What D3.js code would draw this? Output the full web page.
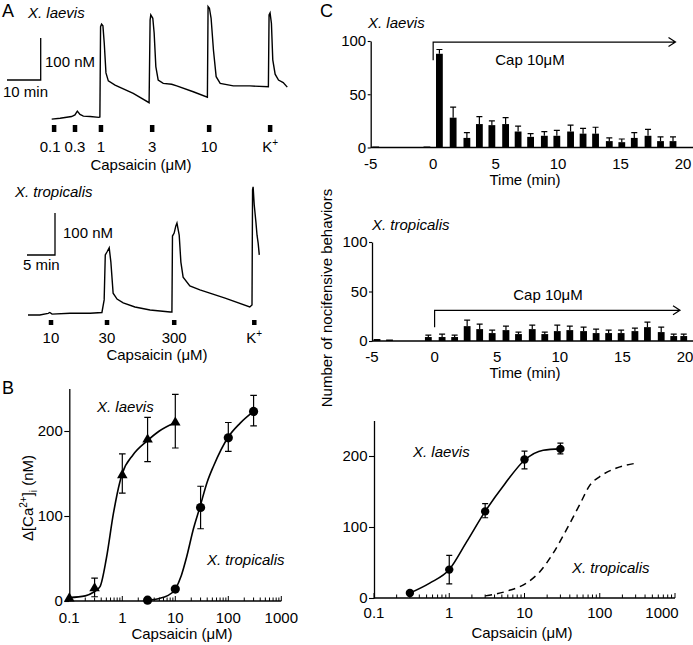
<!DOCTYPE html>
<html><head><meta charset="utf-8">
<script src="https://cdn.jsdelivr.net/npm/d3@7"></script>
<style>
body{margin:0;background:#fff}
text{font-family:"Liberation Sans",Arial,Helvetica,sans-serif;font-size:15px;fill:#000}
</style>
</head><body>
<svg id="c" width="693" height="645" viewBox="0 0 693 645"></svg>
<script>
// ---------- DATA ----------
// Panel A, X. laevis trace: time (min) and Δ[Ca2+] (nM)
const aLaevisT = [0,2.5,5.9,6.9,7.6,8.4,9.4,11.4,14.0,14.3,14.5,14.8,15.2,15.6,16.1,16.8,18.8,24.2,28.9,29.2,29.4,30.0,30.4,30.9,31.6,33.1,35.6,37.1,42.0,46.2,46.4,46.8,47.3,48.0,48.8,50.0,53.9,58.8,64.3,64.5,64.8,65.2,65.6,66.3,67.3,68.7,69.9];
const aLaevisV = [1,3,7,11,20,12,8,7,5,6,221,227,223,181,111,92,82,62,40,237,249,241,206,126,94,86,84,80,66,53,269,265,241,165,102,86,80,80,78,249,254,229,142,108,94,88,77];
const aLaevisStimT = [0.7,6.9,14.6,29.8,46.7,64.8];
const aLaevisStimLab = ["0.1","0.3","1","3","10","K+"];
const aLaevisStimLabShift = [-4,0,0,0,0,0];
// Panel A, X. tropicalis trace
const aTropT = [0,2.1,3.6,3.9,4.3,7.5,11.1,13.2,13.6,13.8,14.1,14.5,14.8,15.2,15.9,17.0,19.1,21.8,25.4,25.7,25.8,26.1,26.4,26.6,27.0,27.3,27.7,28.9,30.7,35.2,39.6,40.0,40.1,40.2,40.4,40.7,40.9,41.1,41.3];
const aTropV = [0,0,4,6,2,4,4,6,36,143,150,160,126,52,38,29,19,12,7,7,188,195,212,219,190,126,90,69,60,40,19,24,298,305,262,221,190,171,143];
const aTropStimT = [4.1,14.1,26.1,40.4];
const aTropStimLab = ["10","30","300","K+"];

// Panel B: dose-response Δ[Ca2+]i (nM)
const bLaevisConc = [0.1,0.3,1,3,10];
const bLaevisMean = [3,15,148,190,210];
const bLaevisLo   = [3,5,127,164,180];
const bLaevisHi   = [3,27,173,216,243];
const bLaevisFitC = [0.1,0.2,0.28,0.38,0.5,0.68,0.9,1.0,1.6,2.9,5,10];
const bLaevisFitV = [4,6,10,17,50,103,140,150,172,188,200,210];
const bTropConc = [3,10,30,100,300];
const bTropMean = [1,14,110,192,223];
const bTropLo   = [1,14,85,176,206];
const bTropHi   = [1,14,135,210,242];
const bTropFitC = [3,5,7,10,13,16.4,22,29,40,52,100,166,300];
const bTropFitV = [1,3,6,14,30,52,85,110,140,158,193,209,223];

// Panel C: nocifensive behaviors per minute
const cLaevisT    = [-4.6,-0.5,0.5,1.6,2.7,3.7,4.7,5.8,6.8,7.8,8.9,9.9,11.0,12.0,13.0,14.1,15.1,16.1,17.2,18.2,19.2];
const cLaevisMean = [0.5,0.5,88,28,9,22,21,22,15,10,11,11,15,13,13,6,5,9,11,6,6];
const cLaevisErr  = [0,0,4,10,5,7,4,6,5,3,4,5,6,5,6,3,3,5,6,4,4];
const cTropT    = [-4.6,-3.6,-0.5,0.6,1.6,2.6,3.6,4.6,5.7,6.7,7.8,8.8,9.8,10.8,11.9,12.9,13.9,14.9,16.0,17.0,18.1,19.1,19.9];
const cTropMean = [2,1.5,4,4,4,15,12,8,11,7,12,7,10,11,10,8,8,8,10,14,9,5,5];
const cTropErr  = [0,0,2,3,2,6,5,3,4,2,4,2,6,4,4,4,3,3,3,5,5,2,2];
const capStart = 0, capEndLaevis = 19.4, capEndTrop = 19.6;
const timeTicks = [-5,0,5,10,15,20];

// Panel C bottom: behaviors vs concentration
const dLaevisConc = [0.3,1,3,10,30];
const dLaevisMean = [7,40,122,195,210];
const dLaevisLo   = [7,20,113,182,203];
const dLaevisHi   = [7,60,133,207,218];
const dLaevisFitC = [0.3,0.55,1,1.7,3,5.5,10,17.7,30];
const dLaevisFitV = [7,21,40,79,122,161,194,208,210];
const dTropFitC = [3,6,10.6,16,24,36,55,74,100,167,310];
const dTropFitV = [3,10,21,37,63,96,133,159,171,183,190];

// ---------- DRAW ----------
const svg = d3.select("#c");
function text(x,y,s,o={}){
  const t = svg.append("text").attr("x",x).attr("y",y).text(s);
  if(o.anchor) t.attr("text-anchor",o.anchor);
  if(o.italic) t.attr("font-style","italic");
  if(o.size) t.style("font-size",o.size+"px");
  if(o.rotate) t.attr("transform",`rotate(${o.rotate},${x},${y})`);
  return t;
}
function stimLabel(x,y,lab){
  if(lab==="K+"){
    const t = svg.append("text").attr("x",x).attr("y",y).attr("text-anchor","middle");
    t.append("tspan").text("K");
    t.append("tspan").attr("dy",-6).style("font-size","10px").text("+");
  } else text(x,y,lab,{anchor:"middle"});
}
const lineStyle = p => p.attr("fill","none").attr("stroke","#000");

// ---- Panel A ----
text(2,17,"A",{size:18});
text(28,18,"X. laevis",{italic:true});
const xA1 = d3.scaleLinear().domain([0,70]).range([51.7,287.6]);
const yA1 = d3.scaleLinear().domain([0,270]).range([119.5,6.1]);
lineStyle(svg.append("path")).attr("stroke-width",1.4)
  .attr("d", d3.line().x((d,i)=>xA1(aLaevisT[i])).y((d,i)=>yA1(aLaevisV[i]))(aLaevisT));
{ // scale bar
  const sx=40.7, sy=80, w=xA1(10)-xA1(0), h=yA1(0)-yA1(100);
  lineStyle(svg.append("path")).attr("stroke-width",1.3)
    .attr("d",`M${sx-w},${sy}H${sx}V${sy-h}`);
  text(45,67,"100 nM");
  text(3,97,"10 min");
}
aLaevisStimT.forEach((t,i)=>{
  svg.append("rect").attr("x",xA1(t)-2.2).attr("y",125).attr("width",4.5).attr("height",7).attr("fill","#000");
  stimLabel(xA1(t)+aLaevisStimLabShift[i],152,aLaevisStimLab[i]);
});
text(141,170,"Capsaicin (μM)",{anchor:"middle"});

text(15,197,"X. tropicalis",{italic:true});
const xA2 = d3.scaleLinear().domain([0,45]).range([28,280]);
const yA2 = d3.scaleLinear().domain([0,300]).range([315,189]);
lineStyle(svg.append("path")).attr("stroke-width",1.4)
  .attr("d", d3.line().x((d,i)=>xA2(aTropT[i])).y((d,i)=>yA2(aTropV[i]))(aTropT));
{
  const sx=55, sy=255, w=xA2(5)-xA2(0), h=yA2(0)-yA2(100);
  lineStyle(svg.append("path")).attr("stroke-width",1.3)
    .attr("d",`M${sx-w},${sy}H${sx}V${sy-h}`);
  text(63,238,"100 nM");
  text(23,270,"5 min");
}
aTropStimT.forEach((t,i)=>{
  svg.append("rect").attr("x",xA2(t)-2.2).attr("y",320).attr("width",4.5).attr("height",5).attr("fill","#000");
  stimLabel(xA2(t),343,aTropStimLab[i]);
});
text(157,360,"Capsaicin (μM)",{anchor:"middle"});

// ---- log axis helper ----
function logAxis(x, y0, labelDy, lastShift){
  const g = svg.append("g");
  const [r0,r1] = x.range();
  g.append("line").attr("x1",r0).attr("x2",r1).attr("y1",y0).attr("y2",y0).attr("stroke","#000").attr("stroke-width",1.3);
  x.ticks().forEach(d=>{
    const lg = Math.log10(d), major = Math.abs(lg-Math.round(lg))<1e-6;
    g.append("line").attr("x1",x(d)).attr("x2",x(d)).attr("y1",y0).attr("y2",y0-(major?5:3.5)).attr("stroke","#000").attr("stroke-width",1);
    if(major){
      g.append("text").attr("x",x(d)+(d===1000?lastShift:0)).attr("y",y0+labelDy)
        .attr("text-anchor","middle").text(d3.format("~g")(d));
    }
  });
}
function yAxisLeft(y, x0, ticks, size){
  const g = svg.append("g").attr("transform",`translate(${x0},0)`)
    .call(d3.axisLeft(y).tickValues(ticks).tickSize(size).tickPadding(1.5).tickSizeOuter(0));
  g.select(".domain").attr("stroke-width",1.3);
  g.selectAll(".tick line").attr("stroke-width",1.1);
  g.selectAll("text").attr("font-family",null).attr("font-size",null).style("font-size","15px").attr("fill","#000");
  g.attr("font-family",null).attr("font-size",null);
  return g;
}
function errBars(x,y,xs,lo,hi,cap){
  xs.forEach((c,i)=>{
    if(hi[i]-lo[i] < 1) return;
    const px=x(c);
    svg.append("path").attr("fill","none").attr("stroke","#000").attr("stroke-width",1.2)
      .attr("d",`M${px},${y(lo[i])}V${y(hi[i])}M${px-cap},${y(hi[i])}H${px+cap}M${px-cap},${y(lo[i])}H${px+cap}`);
  });
}

// ---- Panel B ----
text(2,394,"B",{size:18});
const xB = d3.scaleLog().domain([0.1,1000]).range([69.3,281.3]);
const yB = d3.scaleLinear().domain([0,250]).range([601,388.5]);
yAxisLeft(yB,69.3,[0,100,200],5);
logAxis(xB,601,22,0);
text(182,639,"Capsaicin (μM)",{anchor:"middle"});
{
  const t = svg.append("text").attr("transform","translate(33,498) rotate(-90)").attr("text-anchor","middle");
  t.append("tspan").text("Δ[Ca");
  t.append("tspan").attr("dy",-6).style("font-size","10px").text("2+");
  t.append("tspan").attr("dy",6).text("]");
  t.append("tspan").attr("dy",4).style("font-size","10px").text("i");
  t.append("tspan").attr("dy",-4).text(" (nM)");
}
const fitLine = (x,y,C,V)=> d3.line().curve(d3.curveMonotoneX).x((d,i)=>x(C[i])).y((d,i)=>y(V[i]))(C);
lineStyle(svg.append("path")).attr("stroke-width",1.6).attr("d",fitLine(xB,yB,bLaevisFitC,bLaevisFitV));
lineStyle(svg.append("path")).attr("stroke-width",1.6).attr("d",fitLine(xB,yB,bTropFitC,bTropFitV));
errBars(xB,yB,bLaevisConc,bLaevisLo,bLaevisHi,3.3);
errBars(xB,yB,bTropConc,bTropLo,bTropHi,3.3);
bLaevisConc.forEach((c,i)=>{
  svg.append("path").attr("d",d3.symbol(d3.symbolTriangle,48)())
    .attr("transform",`translate(${xB(c)},${yB(bLaevisMean[i])})`).attr("fill","#000");
});
bTropConc.forEach((c,i)=>{
  svg.append("circle").attr("cx",xB(c)).attr("cy",yB(bTropMean[i])).attr("r",4.6).attr("fill","#000");
});
text(97,412,"X. laevis",{italic:true});
text(207,565,"X. tropicalis",{italic:true});

// ---- Panel C ----
text(320,17,"C",{size:18});
function barPanel(x,y,T,M,E,endT,arrowLo,arrowHi,capLabelX,capLabelY,axisEnd){
  yAxisLeft(y,x.range()[0],[0,50,100],3);
  const y0=y(0);
  svg.append("line").attr("x1",x.range()[0]).attr("x2",axisEnd).attr("y1",y0).attr("y2",y0).attr("stroke","#000").attr("stroke-width",1.3);
  timeTicks.forEach(t=> text(x(t),y0+21,String(t),{anchor:"middle"}));
  T.forEach((t,i)=>{
    const px=x(t), v=M[i];
    const h=Math.max(y0-y(v),1);
    svg.append("rect").attr("x",px-3.4).attr("width",6.8).attr("y",y0-h).attr("height",h).attr("fill","#000");
    if(E[i]>0){
      svg.append("path").attr("fill","none").attr("stroke","#000").attr("stroke-width",1.2)
        .attr("d",`M${px},${y(v)}V${y(v+E[i])}M${px-3},${y(v+E[i])}H${px+3}`);
    }
  });
  const ax=x(capStart), ae=x(endT), ay=y(arrowHi);
  svg.append("path").attr("fill","none").attr("stroke","#000").attr("stroke-width",1.2)
    .attr("d",`M${ax},${y(arrowLo)}V${ay}H${ae}M${ae-7},${ay-4.5}L${ae},${ay}L${ae-7},${ay+4.5}`);
  text(capLabelX,capLabelY,"Cap 10μM",{anchor:"middle"});
}
const xC1 = d3.scaleLinear().domain([-5,20]).range([370.7,683]);
const yC1 = d3.scaleLinear().domain([0,100]).range([147.5,41]);
text(368,28,"X. laevis",{italic:true});
barPanel(xC1,yC1,cLaevisT,cLaevisMean,cLaevisErr,capEndLaevis,82,99,530,65,693);
text(525,185,"Time (min)",{anchor:"middle"});

const xC2 = d3.scaleLinear().domain([-5,20]).range([372,685]);
const yC2 = d3.scaleLinear().domain([0,100]).range([341,242]);
text(372,230,"X. tropicalis",{italic:true});
barPanel(xC2,yC2,cTropT,cTropMean,cTropErr,capEndTrop,14,31,548,300,693);
text(525,378,"Time (min)",{anchor:"middle"});

text(332,298,"Number of nocifensive behaviors",{anchor:"middle",rotate:-90});

const xC3 = d3.scaleLog().domain([0.1,1000]).range([374,675]);
const yC3 = d3.scaleLinear().domain([0,250]).range([598,420.5]);
yAxisLeft(yC3,374,[0,100,200],5);
logAxis(xC3,598,20,-13);
text(522,638,"Capsaicin (μM)",{anchor:"middle"});
lineStyle(svg.append("path")).attr("stroke-width",1.6).attr("d",fitLine(xC3,yC3,dLaevisFitC,dLaevisFitV));
lineStyle(svg.append("path")).attr("stroke-width",1.5).attr("stroke-dasharray","7,5").attr("d",fitLine(xC3,yC3,dTropFitC,dTropFitV));
errBars(xC3,yC3,dLaevisConc,dLaevisLo,dLaevisHi,3);
dLaevisConc.forEach((c,i)=>{
  svg.append("circle").attr("cx",xC3(c)).attr("cy",yC3(dLaevisMean[i])).attr("r",4.2).attr("fill","#000");
});
text(413,457,"X. laevis",{italic:true});
text(572,573,"X. tropicalis",{italic:true});
</script>
</body></html>
